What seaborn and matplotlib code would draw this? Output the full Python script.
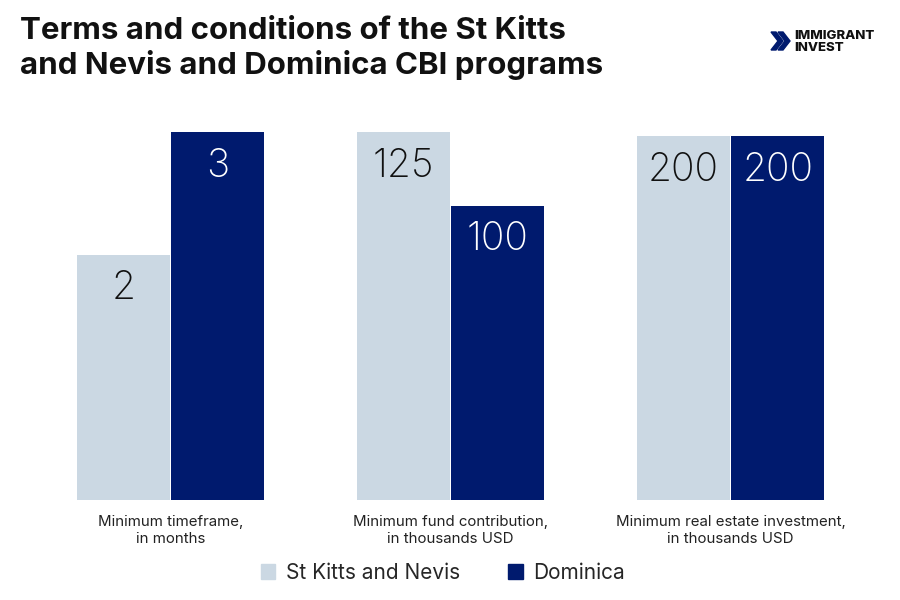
import seaborn as sns
import matplotlib.pyplot as plt
import pandas as pd
from matplotlib.patches import Polygon, Patch

# data
countries = ['St Kitts and Nevis', 'Dominica']
categories = ['Minimum timeframe,\nin months',
              'Minimum fund contribution,\nin thousands USD',
              'Minimum real estate investment,\nin thousands USD']
st_kitts = [2, 125, 200]
dominica = [3, 100, 200]

light = '#CBD8E3'
navy = '#001A6E'
palette = {'St Kitts and Nevis': light, 'Dominica': navy}

sns.set_theme(style='white')
plt.rcParams['font.family'] = ['Inter', 'DejaVu Sans']

fig = plt.figure(figsize=(9, 6), dpi=100)

lefts = [77, 357, 637]
ytops = [1.0, 1.0, 1.011]  # headroom per panel
for i, cat in enumerate(categories):
    ax = fig.add_axes([lefts[i] / 900, 100 / 600, 187 / 900, 368 / 600])
    df = pd.DataFrame({'country': countries, 'value': [st_kitts[i], dominica[i]]})
    sns.barplot(data=df, x='country', y='value', hue='country', palette=palette,
                width=0.98, legend=False, ax=ax, saturation=1, linewidth=0)
    ymax = max(st_kitts[i], dominica[i])
    ax.set_ylim(0, ymax * ytops[i])
    ax.set_xlim(-0.49, 1.49)
    ax.axis('off')
    for j, v in enumerate([st_kitts[i], dominica[i]]):
        ax.annotate(str(v), xy=(j, v), xytext=(0, -24.5), textcoords='offset points',
                    ha='center', va='center', fontsize=28, fontweight='light',
                    color='#111111' if j == 0 else 'white')
    fig.text((lefts[i] + 93.5) / 900, 1 - 515 / 600, cat, ha='center', va='top',
             fontsize=10.8, color='#222222', linespacing=1.25)

fig.text(20 / 900, 1 - 17 / 600,
         'Terms and conditions of the St Kitts\nand Nevis and Dominica CBI programs',
         ha='left', va='top', fontsize=22.5, fontweight='bold', color='#111111',
         linespacing=1.22)

# logo
tr = fig.transFigure
def chev(x0):
    pts = [(x0, 32), (x0 + 5, 32), (x0 + 12, 41), (x0 + 5, 50), (x0, 50), (x0 + 7, 41)]
    return Polygon([(x / 900, 1 - y / 600) for x, y in pts], closed=True,
                   transform=tr, color=navy)
fig.patches.append(chev(771))
fig.patches.append(chev(778))
fig.text(794 / 900, 1 - 42 / 600, 'IMMIGRANT\nINVEST', ha='left', va='center',
         fontsize=9.5, fontweight='heavy', color='#111111', linespacing=0.9)

handles = [Patch(color=palette[c], label=c) for c in countries]
fig.legend(handles=handles, loc='center', bbox_to_anchor=(0.492, 1 - 573 / 600),
           ncol=2, frameon=False, fontsize=15, handlelength=0.7, handleheight=0.7,
           columnspacing=2.3, handletextpad=0.5)

fig.savefig('out.png', dpi=100)
